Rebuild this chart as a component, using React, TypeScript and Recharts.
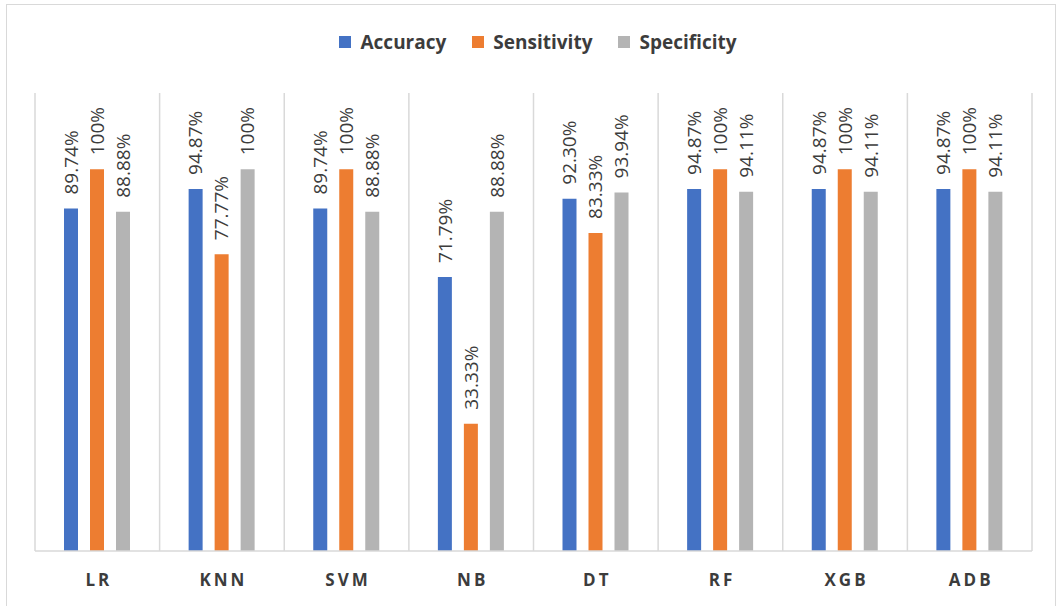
import React from 'react';
import { BarChart, Bar, XAxis, YAxis, Legend, CartesianGrid, LabelList } from 'recharts';

const categories = ['LR', 'KNN', 'SVM', 'NB', 'DT', 'RF', 'XGB', 'ADB'];
const accuracy = [89.74, 94.87, 89.74, 71.79, 92.3, 94.87, 94.87, 94.87];
const sensitivity = [100, 77.77, 100, 33.33, 83.33, 100, 100, 100];
const specificity = [88.88, 100, 88.88, 88.88, 93.94, 94.11, 94.11, 94.11];

const data = categories.map((c, i) => ({
  name: c,
  Accuracy: accuracy[i],
  Sensitivity: sensitivity[i],
  Specificity: specificity[i],
}));

const FONT = '"Open Sans", "Noto Sans", sans-serif';
const TEXT = '#3c3c3c';

const fmt = (v: number) => (v === 100 ? '100%' : v.toFixed(2) + '%');

const RotLabel = (props: any) => {
  const { x, y, width, value } = props;
  const cx = x + width / 2;
  const ty = y - 14;
  return (
    <text
      x={cx}
      y={ty}
      dy="0.36em"
      transform={`rotate(-90, ${cx}, ${ty})`}
      textAnchor="start"
      fontFamily={FONT}
      fontSize={19}
      fontWeight={500}
      fill={TEXT}
    >
      {fmt(Number(value))}
    </text>
  );
};

const CatTick = (props: any) => {
  const { x, y, payload } = props;
  return (
    <text
      x={x + 1.5}
      y={y + 20}
      textAnchor="middle"
      dominantBaseline="central"
      fontFamily={FONT}
      fontSize={17}
      fontWeight={700}
      letterSpacing={3}
      fill={TEXT}
    >
      {payload.value}
    </text>
  );
};

const LegendContent = (props: any) => {
  const { payload } = props;
  return (
    <div style={{ display: 'flex', justifyContent: 'center', paddingLeft: 20, fontFamily: FONT }}>
      {(payload || []).map((p: any, i: number) => (
        <div key={i} style={{ display: 'flex', alignItems: 'center', marginRight: i < payload.length - 1 ? 26 : 0 }}>
          <div style={{ width: 12, height: 12, background: p.color, marginRight: 9 }} />
          <span style={{ fontSize: 19, fontWeight: 700, color: TEXT, lineHeight: '24px' }}>{p.value}</span>
        </div>
      ))}
    </div>
  );
};

const boundaryGenerator = ({ offset }: any) =>
  Array.from({ length: categories.length + 1 }, (_, i) => offset.left + (i * offset.width) / categories.length);

export default function App() {
  return (
    <div style={{ position: 'absolute', left: 0, top: 0, width: 1056, height: 606, overflow: 'hidden', background: '#fff' }}>
      <div style={{ position: 'absolute', left: 6, top: 4, width: 1048, height: 700, border: '1px solid #d9d9d9' }} />
      <div style={{ position: 'absolute', left: 0, top: 0 }}>
        <BarChart
          width={1056}
          height={606}
          data={data}
          margin={{ top: 93, right: 24, bottom: 0, left: 35 }}
          barSize={14}
          barGap={12}
        >
          <CartesianGrid
            horizontal={false}
            vertical
            stroke="#d9d9d9"
            strokeWidth={1.5}
            verticalCoordinatesGenerator={boundaryGenerator}
          />
          <XAxis
            dataKey="name"
            height={55}
            axisLine={{ stroke: '#d9d9d9', strokeWidth: 1.5 }}
            tickLine={false}
            tick={<CatTick />}
            interval={0}
          />
          <YAxis hide domain={[0, 120]} />
          <Legend verticalAlign="middle" wrapperStyle={{ top: 30, left: 0, width: 1056 }} content={<LegendContent />} />
          <Bar dataKey="Accuracy" fill="#4472C4" isAnimationActive={false}>
            <LabelList dataKey="Accuracy" content={<RotLabel />} />
          </Bar>
          <Bar dataKey="Sensitivity" fill="#ED7D31" isAnimationActive={false}>
            <LabelList dataKey="Sensitivity" content={<RotLabel />} />
          </Bar>
          <Bar dataKey="Specificity" fill="#B4B4B4" isAnimationActive={false}>
            <LabelList dataKey="Specificity" content={<RotLabel />} />
          </Bar>
        </BarChart>
      </div>
    </div>
  );
}
